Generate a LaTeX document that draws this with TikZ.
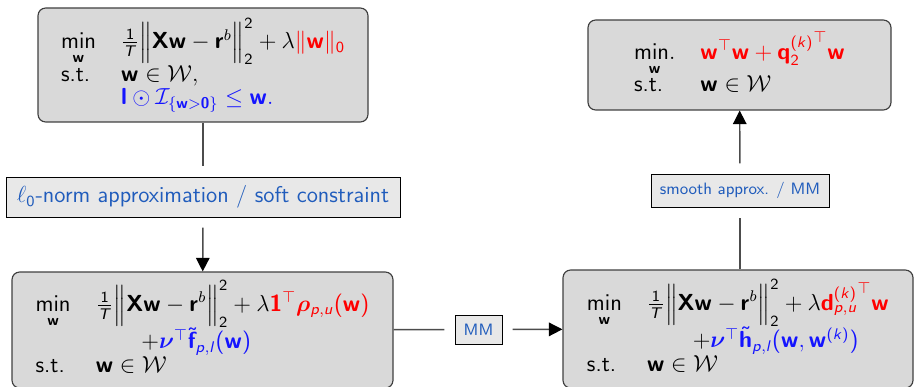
\documentclass[11pt,tikz,border=0pt]{standalone}
\usepackage{amsmath,amssymb,bm}
\usetikzlibrary{arrows.meta,positioning}
\renewcommand{\familydefault}{\sfdefault}
\SetSymbolFont{operators}{normal}{OT1}{cmss}{m}{n}
\SetMathAlphabet{\mathbf}{normal}{OT1}{cmss}{bx}{n}
\DeclareMathAlphabet{\mathsi}{OT1}{cmss}{m}{sl}
\definecolor{boxgray}{RGB}{217,217,217}
\definecolor{notegray}{RGB}{232,232,232}
\definecolor{noteblue}{RGB}{32,92,188}
\definecolor{hired}{RGB}{255,0,0}
\definecolor{hiblue}{RGB}{20,20,255}
\newcommand{\wv}{\mathbf{w}}
\newcommand{\fit}{{\tfrac{1}{\mathsi{T}}}\Big\|\mathbf{X}\wv-\mathbf{r}^{b}\Big\|_2^2}
\renewcommand{\arraystretch}{0.85}
\tikzset{
    probbox/.style={draw=black!75, fill=boxgray, rounded corners=4pt, line width=0.6pt, inner sep=0pt},
    stepnote/.style={draw=black, fill=notegray, text=noteblue, line width=0.5pt, inner sep=0pt, outer sep=5.5pt},
    link/.style={draw=black!70, line width=0.75pt},
    tip/.style={-{Triangle[length=7pt,width=7pt,color=black]}}
}
\begin{document}
\begin{tikzpicture}[x=0.517pt,y=-0.517pt, font=\fontsize{11.8}{14.2}\selectfont]
    \def\px{0.517pt}
    \useasboundingbox (0,0) rectangle (914,387);
    % problems
    \node[probbox, minimum width=330*\px, minimum height=114*\px] (orig) at (203,65)
        {$\begin{array}{@{}l@{\hspace{13pt}}l@{}}
        \min\limits_{\wv} & \fit+\lambda\textcolor{hired}{\|\wv\|_0}\\
        \text{s.t.} & \wv\in\mathcal{W},\\
        & \textcolor{hiblue}{\mathbf{l}\odot\mathcal{I}_{\{\wv>\mathbf{0}\}}\leq\wv.}
        \end{array}$};
    \node[probbox, minimum width=381*\px, minimum height=116*\px] (relax) at (202.5,330)
        {$\begin{array}{@{}l@{\hspace{13pt}}l@{}}
        \min\limits_{\wv} & \fit+\lambda\textcolor{hired}{\mathbf{1}^{\top}\bm{\rho}_{\mathsi{p,u}}(\wv)}\\
        & \qquad+\textcolor{hiblue}{\bm{\nu}^{\top}\tilde{\mathbf{f}}_{\mathsi{p,l}}(\wv)}\\
        \text{s.t.} & \wv\in\mathcal{W}
        \end{array}$};
    \node[probbox, minimum width=350*\px, minimum height=118*\px] (major) at (738,329)
        {$\begin{array}{@{}l@{\hspace{13pt}}l@{}}
        \min\limits_{\wv} & \fit+\lambda\textcolor{hired}{{\mathbf{d}_{\mathsi{p,u}}^{(\mathsi{k})}}^{\top}\wv}\\
        & \qquad+\textcolor{hiblue}{\bm{\nu}^{\top}\tilde{\mathbf{h}}_{\mathsi{p,l}}(\wv,\wv^{(\mathsi{k})})}\\
        \text{s.t.} & \wv\in\mathcal{W}
        \end{array}$};
    \node[probbox, minimum width=303*\px, minimum height=90*\px] (quad) at (739.5,65)
        {$\begin{array}{@{}l@{\hspace{13pt}}l@{}}
        \operatorname*{min.}\limits_{\wv} & \textcolor{hired}{\wv^{\top}\wv+{\mathbf{q}_2^{(\mathsi{k})}}^{\top}\wv}\\
        \text{s.t.} & \wv\in\mathcal{W}
        \end{array}$};
    % steps
    \node[stepnote, minimum width=394*\px, minimum height=40*\px] (soft) at (203,197)
        {$\ell_0$-norm approximation / soft constraint};
    \node[stepnote, minimum width=178*\px, minimum height=33*\px, font=\fontsize{8.5}{10}\selectfont] (smooth) at (740,190.5)
        {smooth approx. / MM};
    \node[stepnote, minimum width=47*\px, minimum height=29*\px, font=\fontsize{8.5}{10}\selectfont] (mm) at (478.5,329.5)
        {MM};
    \draw[link] (orig) -- (soft);
    \draw[link, tip] (soft) -- (relax);
    \draw[link] (relax) -- (mm);
    \draw[link, tip] (mm) -- (major);
    \draw[link] (smooth |- major.north) -- (smooth);
    \draw[link, tip] (smooth) -- (quad);
\end{tikzpicture}
\end{document}
